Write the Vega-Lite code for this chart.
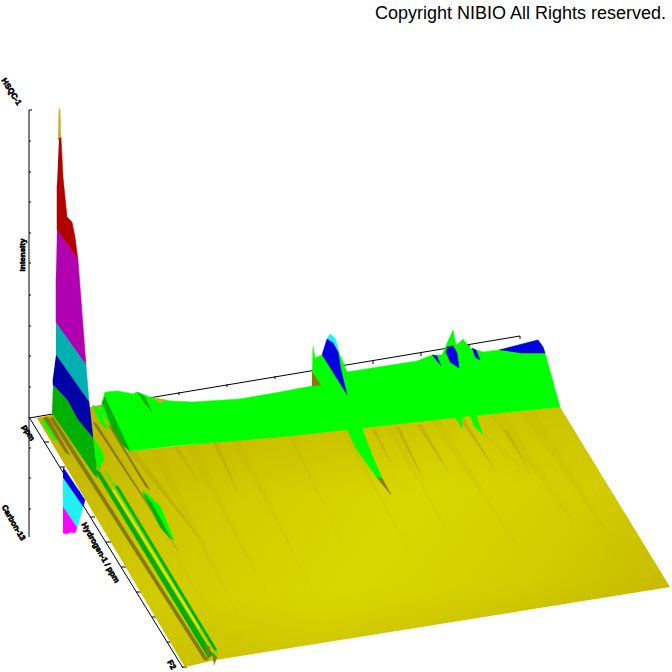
{"$schema":"https://vega.github.io/schema/vega-lite/v6.json","width":672,"height":672,"padding":0,"autosize":"none","background":"white","config":{"view":{"stroke":null}},
"datasets":{
"rules":[
{"x":29,"y":110,"x2":29,"y2":537},{"x":29,"y":418,"x2":520,"y2":336},{"x":29,"y":417,"x2":183,"y2":668},
{"x":29,"y":110,"x2":32,"y2":110},{"x":29,"y":141,"x2":31,"y2":141},{"x":29,"y":172,"x2":31,"y2":172},{"x":29,"y":202,"x2":31,"y2":202},{"x":29,"y":233,"x2":31,"y2":233},{"x":29,"y":263,"x2":31,"y2":263},{"x":29,"y":295,"x2":31,"y2":295},{"x":29,"y":326,"x2":31,"y2":326},{"x":29,"y":356,"x2":31,"y2":356},{"x":29,"y":387,"x2":31,"y2":387},{"x":29,"y":448,"x2":31,"y2":448},{"x":29,"y":478,"x2":31,"y2":478},{"x":29,"y":509,"x2":31,"y2":509},
{"x":179,"y":392,"x2":179,"y2":395},{"x":227,"y":384,"x2":227,"y2":387},{"x":275,"y":376,"x2":275,"y2":379},{"x":323,"y":368,"x2":323,"y2":371},{"x":373,"y":361,"x2":373,"y2":364},{"x":421,"y":353,"x2":421,"y2":356},{"x":469,"y":344,"x2":469,"y2":347},{"x":520,"y":336,"x2":520,"y2":339},
{"x":44,"y":442,"x2":49,"y2":442},{"x":60,"y":467,"x2":65,"y2":467},{"x":75,"y":492,"x2":80,"y2":492},{"x":90,"y":517,"x2":95,"y2":517},{"x":106,"y":542,"x2":111,"y2":542},{"x":121,"y":567,"x2":126,"y2":567},{"x":136,"y":592,"x2":141,"y2":592},{"x":152,"y":617,"x2":157,"y2":617},{"x":167,"y":642,"x2":172,"y2":642},{"x":182,"y":667,"x2":187,"y2":667}
],
"sheet":[
{"p":"main","i":0,"x":100,"y":405},{"p":"main","i":1,"x":130,"y":451},{"p":"main","i":2,"x":560,"y":407},{"p":"main","i":3,"x":670,"y":587},{"p":"main","i":4,"x":215,"y":660},{"p":"main","i":5,"x":185,"y":667},{"p":"main","i":6,"x":37,"y":418}
],
"faint":[
{"p":"f1","i":0,"x":185,"y":446},{"p":"f1","i":1,"x":196,"y":445},{"p":"f1","i":2,"x":270,"y":600},
{"p":"f2","i":0,"x":232,"y":441},{"p":"f2","i":1,"x":240,"y":440},{"p":"f2","i":2,"x":318,"y":600},
{"p":"f3","i":0,"x":150,"y":450},{"p":"f3","i":1,"x":160,"y":449},{"p":"f3","i":2,"x":240,"y":620},
{"p":"f4","i":0,"x":288,"y":436},{"p":"f4","i":1,"x":294,"y":435},{"p":"f4","i":2,"x":345,"y":550},
{"p":"f5","i":0,"x":385,"y":426},{"p":"f5","i":1,"x":392,"y":425},{"p":"f5","i":2,"x":452,"y":540},
{"p":"f6","i":0,"x":430,"y":421},{"p":"f6","i":1,"x":440,"y":420},{"p":"f6","i":2,"x":520,"y":550},
{"p":"f7","i":0,"x":490,"y":415},{"p":"f7","i":1,"x":505,"y":413},{"p":"f7","i":2,"x":575,"y":525},
{"p":"f8","i":0,"x":520,"y":412},{"p":"f8","i":1,"x":535,"y":410},{"p":"f8","i":2,"x":612,"y":540},
{"p":"f9","i":0,"x":100,"y":425},{"p":"f9","i":1,"x":108,"y":430},{"p":"f9","i":2,"x":218,"y":630},
{"p":"f10","i":0,"x":340,"y":430},{"p":"f10","i":1,"x":346,"y":429},{"p":"f10","i":2,"x":412,"y":555}
],
"polys":[
{"p":"w1","i":0,"c":"green","x":100,"y":412},{"p":"w1","i":1,"c":"green","x":102,"y":403},{"p":"w1","i":2,"c":"green","x":105,"y":392},{"p":"w1","i":3,"c":"green","x":118,"y":391},{"p":"w1","i":4,"c":"green","x":133,"y":394},{"p":"w1","i":5,"c":"green","x":137,"y":392},{"p":"w1","i":6,"c":"green","x":150,"y":397},{"p":"w1","i":7,"c":"green","x":170,"y":401},{"p":"w1","i":8,"c":"green","x":193,"y":402},{"p":"w1","i":9,"c":"green","x":240,"y":399},{"p":"w1","i":10,"c":"green","x":280,"y":392},{"p":"w1","i":11,"c":"green","x":312,"y":386},{"p":"w1","i":12,"c":"green","x":313,"y":347},{"p":"w1","i":13,"c":"green","x":315,"y":358},{"p":"w1","i":14,"c":"green","x":322,"y":355},{"p":"w1","i":15,"c":"green","x":338,"y":350},{"p":"w1","i":16,"c":"green","x":347,"y":372},{"p":"w1","i":17,"c":"green","x":417,"y":361},{"p":"w1","i":18,"c":"green","x":432,"y":355},{"p":"w1","i":19,"c":"green","x":442,"y":355},{"p":"w1","i":20,"c":"green","x":445,"y":348},{"p":"w1","i":21,"c":"green","x":453,"y":330},{"p":"w1","i":22,"c":"green","x":456,"y":345},{"p":"w1","i":23,"c":"green","x":460,"y":342},{"p":"w1","i":24,"c":"green","x":463,"y":339},{"p":"w1","i":25,"c":"green","x":470,"y":348},{"p":"w1","i":26,"c":"green","x":483,"y":352},{"p":"w1","i":27,"c":"green","x":500,"y":350},{"p":"w1","i":28,"c":"green","x":538,"y":340},{"p":"w1","i":29,"c":"green","x":543,"y":347},{"p":"w1","i":30,"c":"green","x":545,"y":353},{"p":"w1","i":31,"c":"green","x":560,"y":407},{"p":"w1","i":32,"c":"green","x":462,"y":417},{"p":"w1","i":33,"c":"green","x":370,"y":427},{"p":"w1","i":34,"c":"green","x":290,"y":436},{"p":"w1","i":35,"c":"green","x":173,"y":446},{"p":"w1","i":36,"c":"green","x":130,"y":451},

{"p":"b0","i":0,"c":"brown","x":312,"y":372},{"p":"b0","i":1,"c":"brown","x":321,"y":385},{"p":"b0","i":2,"c":"brown","x":312,"y":386},
{"p":"gd1","i":0,"c":"dgreen","x":102,"y":403},{"p":"gd1","i":1,"c":"dgreen","x":105,"y":397},{"p":"gd1","i":2,"c":"dgreen","x":117,"y":423},{"p":"gd1","i":3,"c":"dgreen","x":130,"y":451},{"p":"gd1","i":4,"c":"dgreen","x":122,"y":445},{"p":"gd1","i":5,"c":"dgreen","x":112,"y":428},
{"p":"gd2","i":0,"c":"dgreen","x":137,"y":392},{"p":"gd2","i":1,"c":"dgreen","x":145,"y":397},{"p":"gd2","i":2,"c":"dgreen","x":152,"y":412},{"p":"gd2","i":3,"c":"dgreen","x":143,"y":401},
{"p":"gtop","i":0,"c":"olive","x":152,"y":398},{"p":"gtop","i":1,"c":"olive","x":166,"y":400},{"p":"gtop","i":2,"c":"olive","x":160,"y":403},

{"p":"bc","i":0,"c":"cyan","x":327,"y":339},{"p":"bc","i":1,"c":"cyan","x":330,"y":334},{"p":"bc","i":2,"c":"cyan","x":335,"y":338},{"p":"bc","i":3,"c":"cyan","x":339,"y":352},
{"p":"bb1","i":0,"c":"blue","x":322,"y":355},{"p":"bb1","i":1,"c":"blue","x":327,"y":339},{"p":"bb1","i":2,"c":"blue","x":333,"y":343},{"p":"bb1","i":3,"c":"blue","x":338,"y":352},{"p":"bb1","i":4,"c":"blue","x":341,"y":370},{"p":"bb1","i":5,"c":"blue","x":347,"y":395},
{"p":"bb2","i":0,"c":"blue","x":432,"y":355},{"p":"bb2","i":1,"c":"blue","x":437,"y":356},{"p":"bb2","i":2,"c":"blue","x":441,"y":366},
{"p":"bb3","i":0,"c":"blue","x":446,"y":353},{"p":"bb3","i":1,"c":"blue","x":447,"y":347},{"p":"bb3","i":2,"c":"blue","x":453,"y":346},{"p":"bb3","i":3,"c":"blue","x":457,"y":353},{"p":"bb3","i":4,"c":"blue","x":459,"y":368},{"p":"bb3","i":5,"c":"blue","x":450,"y":362},
{"p":"bb4","i":0,"c":"blue","x":472,"y":348},{"p":"bb4","i":1,"c":"blue","x":476,"y":350},{"p":"bb4","i":2,"c":"blue","x":480,"y":360},{"p":"bb4","i":3,"c":"blue","x":475,"y":357},
{"p":"bb5","i":0,"c":"blue","x":499,"y":350},{"p":"bb5","i":1,"c":"blue","x":538,"y":340},{"p":"bb5","i":2,"c":"blue","x":543,"y":347},{"p":"bb5","i":3,"c":"blue","x":545,"y":353},{"p":"bb5","i":4,"c":"blue","x":520,"y":353},

{"p":"t1","i":0,"c":"green","x":338,"y":410},{"p":"t1","i":1,"c":"green","x":352,"y":420},{"p":"t1","i":2,"c":"green","x":362,"y":428},{"p":"t1","i":3,"c":"green","x":372,"y":455},{"p":"t1","i":4,"c":"green","x":382,"y":478},{"p":"t1","i":5,"c":"green","x":377,"y":478},{"p":"t1","i":6,"c":"green","x":355,"y":447},
{"p":"t1b","i":0,"c":"brown","x":377,"y":478},{"p":"t1b","i":1,"c":"brown","x":382,"y":478},{"p":"t1b","i":2,"c":"brown","x":391,"y":495},
{"p":"t2","i":0,"c":"green","x":455,"y":417},{"p":"t2","i":1,"c":"green","x":463,"y":417},{"p":"t2","i":2,"c":"green","x":462,"y":429},
{"p":"t3","i":0,"c":"green","x":470,"y":416},{"p":"t3","i":1,"c":"green","x":476,"y":415},{"p":"t3","i":2,"c":"green","x":483,"y":435},{"p":"t3","i":3,"c":"green","x":474,"y":426},

{"p":"s1","i":0,"c":"streak","x":372,"y":430},{"p":"s1","i":1,"c":"streak","x":375,"y":429},{"p":"s1","i":2,"c":"streak","x":391,"y":463},
{"p":"s2","i":0,"c":"streak","x":395,"y":427},{"p":"s2","i":1,"c":"streak","x":399,"y":426},{"p":"s2","i":2,"c":"streak","x":424,"y":481},
{"p":"s3","i":0,"c":"streak","x":417,"y":425},{"p":"s3","i":1,"c":"streak","x":421,"y":424},{"p":"s3","i":2,"c":"streak","x":448,"y":471},
{"p":"s4","i":0,"c":"brown","x":480,"y":436},{"p":"s4","i":1,"c":"streak","x":484,"y":435},{"p":"s4","i":2,"c":"streak","x":531,"y":474},
{"p":"s5","i":0,"c":"streak","x":503,"y":430},{"p":"s5","i":1,"c":"streak","x":507,"y":430},{"p":"s5","i":2,"c":"streak","x":528,"y":468},
{"p":"s6","i":0,"c":"streak","x":173,"y":447},{"p":"s6","i":1,"c":"streak","x":178,"y":447},{"p":"s6","i":2,"c":"streak","x":198,"y":481},
{"p":"s7","i":0,"c":"streak","x":213,"y":443},{"p":"s7","i":1,"c":"streak","x":218,"y":443},{"p":"s7","i":2,"c":"streak","x":238,"y":494},
{"p":"s8","i":0,"c":"brown","x":93,"y":423},{"p":"s8","i":1,"c":"brown","x":96,"y":423},{"p":"s8","i":2,"c":"brown","x":178,"y":551},
{"p":"s9","i":0,"c":"brown","x":108,"y":425},{"p":"s9","i":1,"c":"brown","x":111,"y":427},{"p":"s9","i":2,"c":"brown","x":150,"y":490},{"p":"s9","i":3,"c":"brown","x":145,"y":486},
{"p":"s10","i":0,"c":"streak","x":128,"y":452},{"p":"s10","i":1,"c":"streak","x":136,"y":452},{"p":"s10","i":2,"c":"streak","x":205,"y":545},
{"p":"s11","i":0,"c":"streak","x":460,"y":420},{"p":"s11","i":1,"c":"streak","x":465,"y":420},{"p":"s11","i":2,"c":"streak","x":495,"y":470},

{"p":"lens","i":0,"c":"green","x":142,"y":489},{"p":"lens","i":1,"c":"green","x":160,"y":506},{"p":"lens","i":2,"c":"green","x":174,"y":540},{"p":"lens","i":3,"c":"green","x":165,"y":533},
{"p":"lensd","i":0,"c":"dgreen","x":142,"y":492},{"p":"lensd","i":1,"c":"dgreen","x":152,"y":503},{"p":"lensd","i":2,"c":"dgreen","x":171,"y":539},{"p":"lensd","i":3,"c":"dgreen","x":160,"y":527},
{"p":"lensb","i":0,"c":"brown","x":165,"y":533},{"p":"lensb","i":1,"c":"brown","x":174,"y":540},{"p":"lensb","i":2,"c":"streak","x":183,"y":558},

{"p":"str0","i":0,"c":"brown","x":43,"y":418},{"p":"str0","i":1,"c":"brown","x":48,"y":417},{"p":"str0","i":2,"c":"brown","x":70,"y":455},{"p":"str0","i":3,"c":"brown","x":65,"y":452},
{"p":"str1","i":0,"c":"brown","x":50,"y":419},{"p":"str1","i":1,"c":"brown","x":53,"y":417},{"p":"str1","i":2,"c":"brown","x":208,"y":660},{"p":"str1","i":3,"c":"brown","x":204,"y":660},
{"p":"str2","i":0,"c":"dgreen","x":93,"y":468},{"p":"str2","i":1,"c":"dgreen","x":100,"y":472},{"p":"str2","i":2,"c":"dgreen","x":213,"y":655},{"p":"str2","i":3,"c":"dgreen","x":208,"y":658},
{"p":"str3","i":0,"c":"green","x":104,"y":470},{"p":"str3","i":1,"c":"green","x":110,"y":478},{"p":"str3","i":2,"c":"green","x":218,"y":655},{"p":"str3","i":3,"c":"green","x":215,"y":652},
{"p":"str3y","i":0,"c":"bright","x":112,"y":490},{"p":"str3y","i":1,"c":"bright","x":114,"y":490},{"p":"str3y","i":2,"c":"bright","x":200,"y":628},{"p":"str3y","i":3,"c":"bright","x":198,"y":628},
{"p":"str4","i":0,"c":"dgreen","x":115,"y":486},{"p":"str4","i":1,"c":"dgreen","x":118,"y":486},{"p":"str4","i":2,"c":"dgreen","x":217,"y":650},{"p":"str4","i":3,"c":"dgreen","x":214,"y":650},
{"p":"str5","i":0,"c":"brown","x":205,"y":645},{"p":"str5","i":1,"c":"brown","x":210,"y":647},{"p":"str5","i":2,"c":"brown","x":208,"y":660},
{"p":"str6","i":0,"c":"brown","x":212,"y":652},{"p":"str6","i":1,"c":"brown","x":217,"y":657},{"p":"str6","i":2,"c":"brown","x":214,"y":665},
{"p":"str7","i":0,"c":"brown","x":82,"y":418},{"p":"str7","i":1,"c":"brown","x":86,"y":418},{"p":"str7","i":2,"c":"brown","x":100,"y":470},{"p":"str7","i":3,"c":"brown","x":96,"y":466},

{"p":"olive","i":0,"c":"olive","x":58,"y":140},{"p":"olive","i":1,"c":"olive","x":59,"y":109},{"p":"olive","i":2,"c":"olive","x":60,"y":109},{"p":"olive","i":3,"c":"olive","x":61,"y":140},
{"p":"red","i":0,"c":"red","x":59,"y":138},{"p":"red","i":1,"c":"red","x":61,"y":138},{"p":"red","i":2,"c":"red","x":63,"y":177},{"p":"red","i":3,"c":"red","x":67,"y":217},{"p":"red","i":4,"c":"red","x":72,"y":222},{"p":"red","i":5,"c":"red","x":75,"y":237},{"p":"red","i":6,"c":"red","x":78,"y":260},{"p":"red","i":7,"c":"red","x":57,"y":230},{"p":"red","i":8,"c":"red","x":57,"y":185},
{"p":"pur","i":0,"c":"purple","x":57,"y":230},{"p":"pur","i":1,"c":"purple","x":78,"y":260},{"p":"pur","i":2,"c":"purple","x":86,"y":365},{"p":"pur","i":3,"c":"purple","x":56,"y":323},{"p":"pur","i":4,"c":"purple","x":56,"y":277},
{"p":"teal","i":0,"c":"teal","x":56,"y":323},{"p":"teal","i":1,"c":"teal","x":86,"y":365},{"p":"teal","i":2,"c":"teal","x":89,"y":402},{"p":"teal","i":3,"c":"teal","x":56,"y":355},
{"p":"navy","i":0,"c":"navy","x":56,"y":355},{"p":"navy","i":1,"c":"navy","x":89,"y":402},{"p":"navy","i":2,"c":"navy","x":91,"y":420},{"p":"navy","i":3,"c":"navy","x":93,"y":438},{"p":"navy","i":4,"c":"navy","x":78,"y":420},{"p":"navy","i":5,"c":"navy","x":67,"y":400},{"p":"navy","i":6,"c":"navy","x":53,"y":385},{"p":"navy","i":7,"c":"navy","x":53,"y":378},
{"p":"dg","i":0,"c":"dgreen","x":53,"y":385},{"p":"dg","i":1,"c":"dgreen","x":67,"y":400},{"p":"dg","i":2,"c":"dgreen","x":78,"y":420},{"p":"dg","i":3,"c":"dgreen","x":93,"y":438},{"p":"dg","i":4,"c":"dgreen","x":95,"y":458},{"p":"dg","i":5,"c":"dgreen","x":97,"y":478},{"p":"dg","i":6,"c":"dgreen","x":93,"y":473},{"p":"dg","i":7,"c":"dgreen","x":52,"y":413},
{"p":"lg1","i":0,"c":"green","x":92,"y":405},{"p":"lg1","i":1,"c":"green","x":98,"y":408},{"p":"lg1","i":2,"c":"green","x":108,"y":430},{"p":"lg1","i":3,"c":"green","x":100,"y":423},
{"p":"lg2","i":0,"c":"green","x":94,"y":438},{"p":"lg2","i":1,"c":"green","x":102,"y":452},{"p":"lg2","i":2,"c":"green","x":104,"y":460},{"p":"lg2","i":3,"c":"green","x":98,"y":470},{"p":"lg2","i":4,"c":"green","x":95,"y":455},
{"p":"lg3","i":0,"c":"green","x":41,"y":421},{"p":"lg3","i":1,"c":"green","x":44,"y":420},{"p":"lg3","i":2,"c":"green","x":57,"y":440},{"p":"lg3","i":3,"c":"green","x":54,"y":440}
],
"under":[
{"p":"ub","i":0,"c":"blue","x":63,"y":467},{"p":"ub","i":1,"c":"blue","x":85,"y":500},{"p":"ub","i":2,"c":"blue","x":83,"y":507},{"p":"ub","i":3,"c":"blue","x":63,"y":478},
{"p":"uc","i":0,"c":"cyan","x":63,"y":478},{"p":"uc","i":1,"c":"cyan","x":83,"y":507},{"p":"uc","i":2,"c":"cyan","x":77,"y":528},{"p":"uc","i":3,"c":"cyan","x":63,"y":507},
{"p":"um","i":0,"c":"magenta","x":63,"y":507},{"p":"um","i":1,"c":"magenta","x":77,"y":528},{"p":"um","i":2,"c":"magenta","x":75,"y":533},{"p":"um","i":3,"c":"magenta","x":71,"y":532},{"p":"um","i":4,"c":"magenta","x":67,"y":534},{"p":"um","i":5,"c":"magenta","x":63,"y":533}
]
},
"layer":[
{"data":{"name":"rules"},"mark":{"type":"rule","color":"black","strokeWidth":1},"encoding":{"x":{"field":"x","type":"quantitative","scale":{"domain":[0,672],"nice":false,"zero":false},"axis":null},"y":{"field":"y","type":"quantitative","scale":{"domain":[672,0],"nice":false,"zero":false},"axis":null},"x2":{"field":"x2"},"y2":{"field":"y2"}}},
{"data":{"name":"under"},"mark":{"type":"line","strokeWidth":0.5},"encoding":{"x":{"field":"x","type":"quantitative","axis":null},"y":{"field":"y","type":"quantitative","axis":null},"order":{"field":"i"},"detail":{"field":"p"},"fill":{"field":"c","legend":null,"scale":{"domain":["green","dgreen","brown","olive","streak","bright","blue","navy","cyan","red","purple","teal","magenta"],"range":["#00ff00","#00b000","#857a10","#c4b030","#bfb400","#e0e020","#0000e0","#0000a8","#20f0f0","#b00000","#b000b0","#00b0b0","#ff00ff"]}},"stroke":{"field":"c","legend":null,"scale":{"domain":["green","dgreen","brown","olive","streak","bright","blue","navy","cyan","red","purple","teal","magenta"],"range":["#00ff00","#00b000","#857a10","#c4b030","#bfb400","#e0e020","#0000e0","#0000a8","#20f0f0","#b00000","#b000b0","#00b0b0","#ff00ff"]}}}},
{"data":{"name":"sheet"},"mark":{"type":"line","stroke":null,"fill":{"gradient":"linear","x1":0,"y1":0.35,"x2":1,"y2":0.65,"stops":[{"offset":0,"color":"#c6ba00"},{"offset":0.3,"color":"#d2cc00"},{"offset":0.55,"color":"#d8d800"},{"offset":0.8,"color":"#d2cc00"},{"offset":1,"color":"#c8bc00"}]}},"encoding":{"x":{"field":"x","type":"quantitative","axis":null},"y":{"field":"y","type":"quantitative","axis":null},"order":{"field":"i"},"detail":{"field":"p"}}},
{"data":{"name":"sheet"},"mark":{"type":"line","stroke":null,"fill":{"gradient":"linear","x1":0.45,"y1":0,"x2":0.55,"y2":1,"stops":[{"offset":0,"color":"rgba(190,170,0,0.45)"},{"offset":0.35,"color":"rgba(190,170,0,0)"},{"offset":0.7,"color":"rgba(190,170,0,0)"},{"offset":1,"color":"rgba(190,170,0,0.45)"}]}},"encoding":{"x":{"field":"x","type":"quantitative","axis":null},"y":{"field":"y","type":"quantitative","axis":null},"order":{"field":"i"},"detail":{"field":"p"}}},
{"data":{"name":"faint"},"mark":{"type":"line","stroke":null,"fill":"#b8a800","fillOpacity":0.13},"encoding":{"x":{"field":"x","type":"quantitative","axis":null},"y":{"field":"y","type":"quantitative","axis":null},"order":{"field":"i"},"detail":{"field":"p"}}},
{"data":{"name":"polys"},"mark":{"type":"line","strokeWidth":0.5},"encoding":{"x":{"field":"x","type":"quantitative","axis":null},"y":{"field":"y","type":"quantitative","axis":null},"order":{"field":"i"},"detail":{"field":"p"},"fill":{"field":"c","legend":null,"scale":{"domain":["green","dgreen","brown","olive","streak","bright","blue","navy","cyan","red","purple","teal","magenta"],"range":["#00ff00","#00b000","#857a10","#c4b030","#bfb400","#e0e020","#0000e0","#0000a8","#20f0f0","#b00000","#b000b0","#00b0b0","#ff00ff"]}},"stroke":{"field":"c","legend":null,"scale":{"domain":["green","dgreen","brown","olive","streak","bright","blue","navy","cyan","red","purple","teal","magenta"],"range":["#00ff00","#00b000","#857a10","#c4b030","#bfb400","#e0e020","#0000e0","#0000a8","#20f0f0","#b00000","#b000b0","#00b0b0","#ff00ff"]}}}},
{"data":{"values":[{"t":"Copyright NIBIO All Rights reserved.","x":375,"y":19}]},"mark":{"type":"text","font":"Liberation Sans","fontSize":18,"align":"left","baseline":"alphabetic","color":"black"},"encoding":{"x":{"field":"x","type":"quantitative","axis":null},"y":{"field":"y","type":"quantitative","axis":null},"text":{"field":"t"}}},
{"data":{"values":[{"t":"HSQC-1","x":11,"y":92}]},"mark":{"type":"text","font":"Liberation Sans","fontWeight":"bold","fontSize":8,"angle":58,"align":"center","baseline":"middle","color":"black","stroke":"black","strokeWidth":0.6},"encoding":{"x":{"field":"x","type":"quantitative","axis":null},"y":{"field":"y","type":"quantitative","axis":null},"text":{"field":"t"}}},
{"data":{"values":[{"t":"Intensity","x":23,"y":255}]},"mark":{"type":"text","font":"Liberation Sans","fontWeight":"bold","fontSize":8,"angle":270,"align":"center","baseline":"middle","color":"black","stroke":"black","strokeWidth":0.6},"encoding":{"x":{"field":"x","type":"quantitative","axis":null},"y":{"field":"y","type":"quantitative","axis":null},"text":{"field":"t"}}},
{"data":{"values":[{"t":"ppm","x":28,"y":433},{"t":"Carbon-13","x":13,"y":523},{"t":"Hydrogen-1 / ppm","x":100,"y":553},{"t":"F2","x":171,"y":665}]},"mark":{"type":"text","font":"Liberation Sans","fontWeight":"bold","fontSize":8,"angle":60,"align":"center","baseline":"middle","color":"black","stroke":"black","strokeWidth":0.6},"encoding":{"x":{"field":"x","type":"quantitative","axis":null},"y":{"field":"y","type":"quantitative","axis":null},"text":{"field":"t"}}}
]}
